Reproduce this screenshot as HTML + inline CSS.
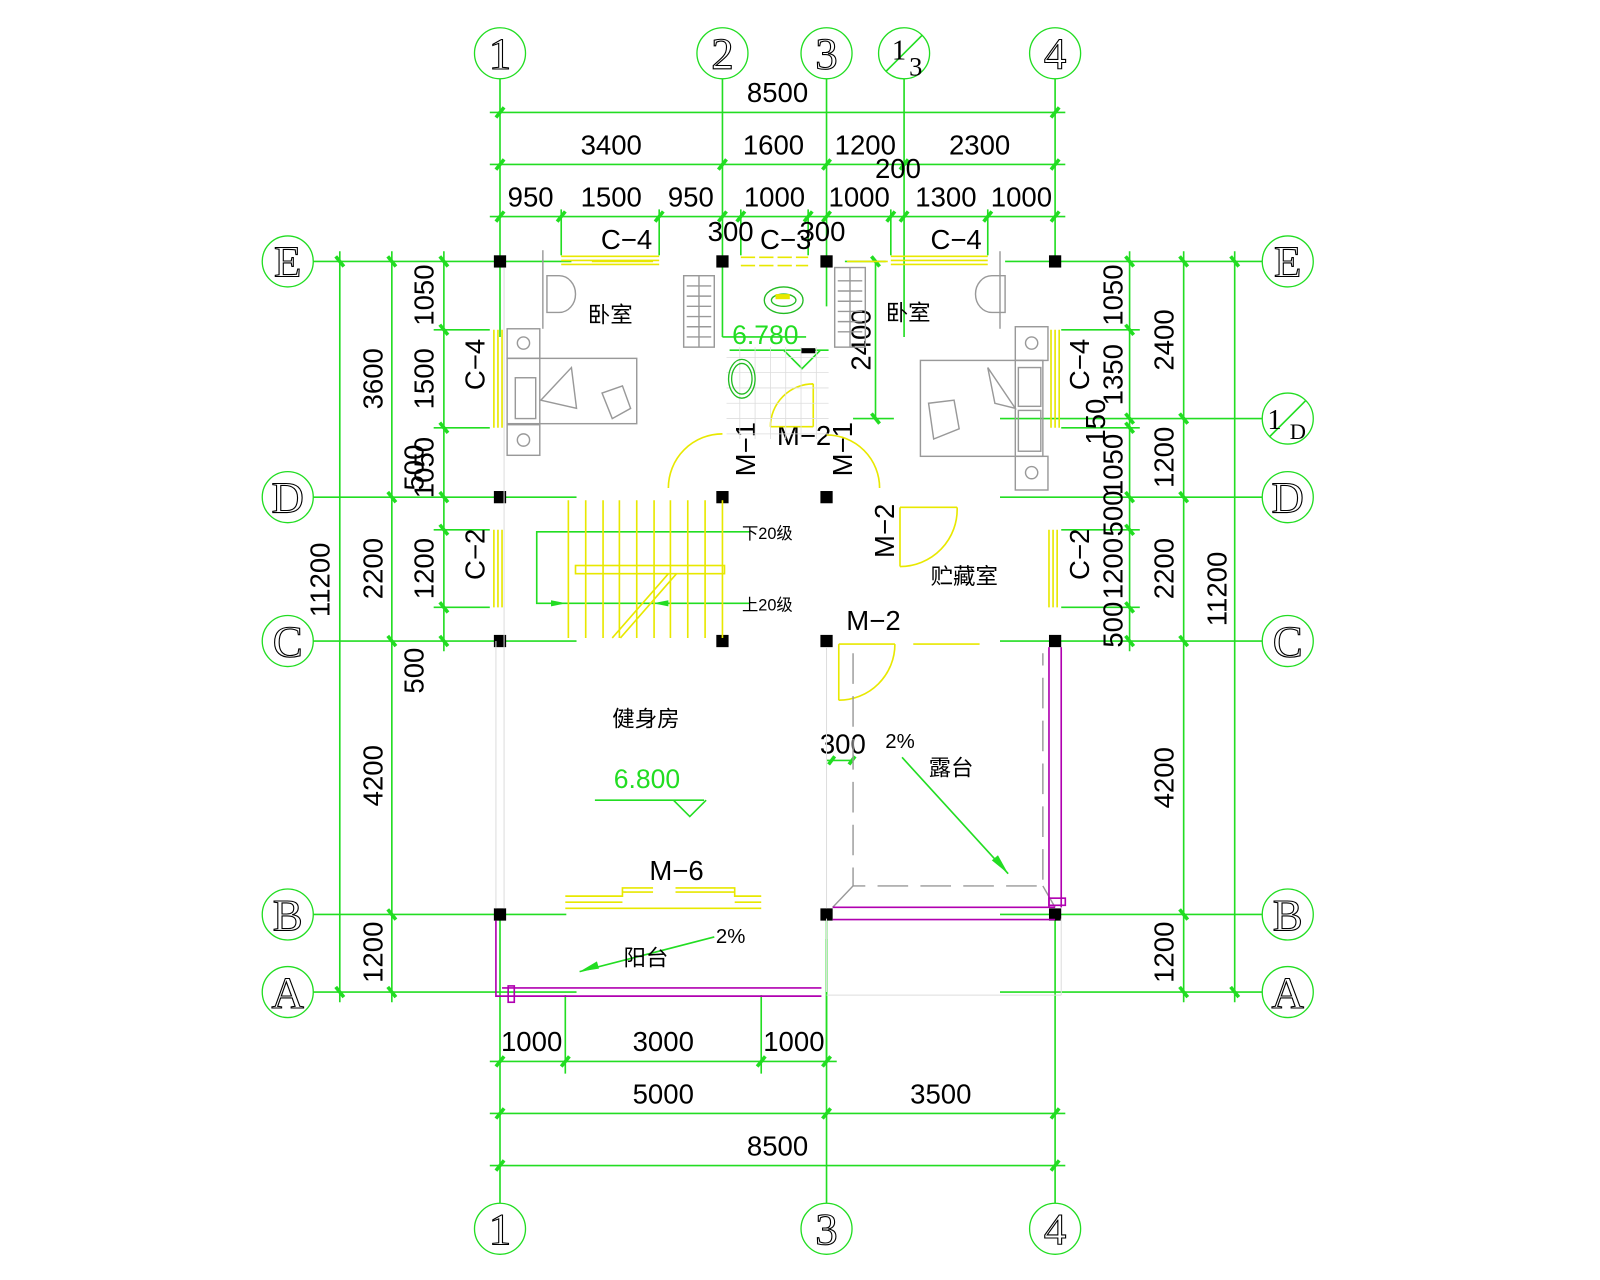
<!DOCTYPE html>
<html><head><meta charset="utf-8"><style>
html,body{margin:0;padding:0;background:#fff;}
svg{display:block}
.g{stroke:#22dd22;stroke-width:1.6;fill:none}
.t{stroke:#22dd22;stroke-width:3.5}
.y{stroke:#e8e800;stroke-width:1.6;fill:none}
.gr{stroke:#999;stroke-width:1.4;fill:none}
.p{stroke:#b000b0;stroke-width:1.6;fill:none}
text{font-family:"Liberation Sans","Noto Sans CJK SC",sans-serif;fill:#000}
.n{font-size:27px;text-anchor:middle;fill:#111}
text.b,.b text{font-family:"Liberation Serif",serif;font-size:44px;text-anchor:middle;fill:#fff;stroke:#000;stroke-width:1.1}
.c{font-size:22px;text-anchor:middle;font-family:"Liberation Sans","Noto Sans CJK SC",sans-serif}
</style></head><body>
<svg width="1600" height="1280" viewBox="0 0 1568 1254" xmlns="http://www.w3.org/2000/svg">
<rect x="0" y="0" width="1568" height="1254" fill="#fff"/>

<g class="g">
<line x1="490" y1="77" x2="490" y2="330"/><line x1="490" y1="896" x2="490" y2="1179"/>
<line x1="708" y1="77" x2="708" y2="330"/><line x1="708" y1="330" x2="790" y2="330"/>
<line x1="810" y1="77" x2="810" y2="300"/><line x1="810" y1="896" x2="810" y2="1179"/>
<line x1="886" y1="77" x2="886" y2="330"/>
<line x1="1034" y1="77" x2="1034" y2="256"/><line x1="1034" y1="896" x2="1034" y2="1179"/>
<line x1="307" y1="256" x2="560" y2="256"/><line x1="985" y1="256" x2="1237" y2="256"/>
<line x1="307" y1="487" x2="565" y2="487"/><line x1="980" y1="487" x2="1237" y2="487"/>
<line x1="307" y1="628" x2="565" y2="628"/><line x1="980" y1="628" x2="1237" y2="628"/>
<line x1="307" y1="896" x2="555" y2="896"/><line x1="980" y1="896" x2="1237" y2="896"/>
<line x1="307" y1="972" x2="565" y2="972"/><line x1="980" y1="972" x2="1237" y2="972"/>
<line x1="980" y1="410" x2="1237" y2="410"/>

<line x1="480" y1="110" x2="1044" y2="110"/>
<line x1="480" y1="161" x2="1044" y2="161"/>
<line x1="480" y1="212" x2="1044" y2="212"/>
<line x1="550" y1="205" x2="550" y2="250"/><line x1="646" y1="205" x2="646" y2="250"/>
<line x1="726" y1="205" x2="726" y2="250"/><line x1="792" y1="205" x2="792" y2="250"/>
<line x1="873" y1="205" x2="873" y2="250"/><line x1="968" y1="205" x2="968" y2="250"/>
<line x1="333" y1="246" x2="333" y2="982"/>
<line x1="384" y1="246" x2="384" y2="982"/>
<line x1="435" y1="246" x2="435" y2="638"/>
<line x1="425" y1="323" x2="480" y2="323"/><line x1="425" y1="419" x2="480" y2="419"/>
<line x1="425" y1="519" x2="480" y2="519"/><line x1="425" y1="595" x2="480" y2="595"/>
<line x1="1107" y1="246" x2="1107" y2="638"/>
<line x1="1160" y1="246" x2="1160" y2="982"/>
<line x1="1210" y1="246" x2="1210" y2="982"/>
<line x1="1040" y1="323" x2="1117" y2="323"/><line x1="1040" y1="419" x2="1117" y2="419"/>
<line x1="1040" y1="519" x2="1117" y2="519"/><line x1="1040" y1="595" x2="1117" y2="595"/>
<line x1="858" y1="256" x2="858" y2="410"/><line x1="836" y1="410" x2="876" y2="410"/>
<line x1="828" y1="256" x2="868" y2="256"/>
<line x1="480" y1="1040" x2="820" y2="1040"/>
<line x1="480" y1="1091" x2="1044" y2="1091"/>
<line x1="480" y1="1142" x2="1044" y2="1142"/>
<line x1="554" y1="975" x2="554" y2="1052"/><line x1="746" y1="975" x2="746" y2="1052"/>
<line x1="810" y1="920" x2="810" y2="1040"/>
<polyline points="735,521 526,521 526,591 735,591"/>
<line x1="715" y1="343" x2="812" y2="343"/>
<polyline points="768,343 786,361 804,343"/>
<line x1="583" y1="784" x2="690" y2="784"/>
<polyline points="660,784 676,800 692,784"/>
<line x1="884" y1="742" x2="988" y2="856"/>
<line x1="700" y1="918" x2="568" y2="952"/>
<line x1="810" y1="745" x2="836" y2="745"/>
</g>
<g fill="#22dd22">
<polygon points="988,856 978,838 972,843"/>
<polygon points="568,952 585,942 587,949"/>
<polygon points="555,591 540,588 540,594"/><polygon points="640,591 655,588 655,594"/>
</g>

<g class="t">
<path d="M486 115L494 105M1030 115L1038 105"/>
<path d="M486 166L494 156M704 166L712 156M806 166L814 156M882 166L890 156M1030 166L1038 156"/>
<path d="M486 217L494 207M546 217L554 207M642 217L650 207M704 217L712 207M722 217L730 207M788 217L796 207M806 217L814 207M869 217L877 207M882 217L890 207M964 217L972 207M1030 217L1038 207"/>
<path d="M329 251L337 261M329 967L337 977"/>
<path d="M380 251L388 261M380 482L388 492M380 623L388 633M380 891L388 901M380 967L388 977"/>
<path d="M431 251L439 261M431 318L439 328M431 414L439 424M431 482L439 492M431 514L439 524M431 590L439 600M431 623L439 633"/>
<path d="M1103 251L1111 261M1103 318L1111 328M1103 405L1111 415M1103 414L1111 424M1103 482L1111 492M1103 514L1111 524M1103 590L1111 600M1103 623L1111 633"/>
<path d="M1156 251L1164 261M1156 405L1164 415M1156 482L1164 492M1156 623L1164 633M1156 891L1164 901M1156 967L1164 977"/>
<path d="M1206 251L1214 261M1206 967L1214 977"/>
<path d="M854 251L862 261M854 405L862 415"/>
<path d="M486 1045L494 1035M550 1045L558 1035M742 1045L750 1035M806 1045L814 1035"/>
<path d="M486 1096L494 1086M806 1096L814 1086M1030 1096L1038 1086"/>
<path d="M486 1147L494 1137M1030 1147L1038 1137"/>
<path d="M812 749L818 741M832 749L838 741"/>
</g>

<g stroke="#22dd22" stroke-width="1.3" fill="#fff">
<circle cx="490" cy="52" r="25"/><circle cx="708" cy="52" r="25"/><circle cx="810" cy="52" r="25"/><circle cx="886" cy="52" r="25"/><circle cx="1034" cy="52" r="25"/>
<circle cx="490" cy="1204" r="25"/><circle cx="810" cy="1204" r="25"/><circle cx="1034" cy="1204" r="25"/>
<circle cx="282" cy="256" r="25"/><circle cx="282" cy="487" r="25"/><circle cx="282" cy="628" r="25"/><circle cx="282" cy="896" r="25"/><circle cx="282" cy="972" r="25"/>
<circle cx="1262" cy="256" r="25"/><circle cx="1262" cy="410" r="25"/><circle cx="1262" cy="487" r="25"/><circle cx="1262" cy="628" r="25"/><circle cx="1262" cy="896" r="25"/><circle cx="1262" cy="972" r="25"/>
</g>
<g class="g"><line x1="868" y1="70" x2="904" y2="34"/><line x1="1244" y1="428" x2="1280" y2="392"/></g>
<g class="b">
<text x="490" y="67">1</text><text x="708" y="67">2</text><text x="810" y="67">3</text><text x="1034" y="67">4</text>
<text x="490" y="1219">1</text><text x="810" y="1219">3</text><text x="1034" y="1219">4</text>
<text x="282" y="271">E</text><text x="282" y="502">D</text><text x="282" y="643">C</text><text x="282" y="911">B</text><text x="282" y="987">A</text>
<text x="1262" y="271">E</text><text x="1262" y="502">D</text><text x="1262" y="643">C</text><text x="1262" y="911">B</text><text x="1262" y="987">A</text>
</g>
<text x="874" y="58" style="font-family:'Liberation Serif',serif;font-size:28px">1</text>
<text x="891" y="74" style="font-family:'Liberation Serif',serif;font-size:26px">3</text>
<text x="1242" y="420" style="font-family:'Liberation Serif',serif;font-size:28px">1</text>
<text x="1264" y="430" style="font-family:'Liberation Serif',serif;font-size:22px">D</text>

<g class="n">
<text x="762" y="100">8500</text>
<text x="599" y="151">3400</text><text x="758" y="151">1600</text><text x="848" y="151">1200</text><text x="960" y="151">2300</text>
<text x="880" y="174">200</text>
<text x="520" y="202">950</text><text x="599" y="202">1500</text><text x="677" y="202">950</text><text x="759" y="202">1000</text><text x="842" y="202">1000</text><text x="927" y="202">1300</text><text x="1001" y="202">1000</text>
<text x="716" y="236">300</text><text x="806" y="236">300</text>
<text x="614" y="244">C−4</text><text x="770" y="244">C−3</text><text x="937" y="244">C−4</text>
<text x="521" y="1030">1000</text><text x="650" y="1030">3000</text><text x="778" y="1030">1000</text>
<text x="650" y="1081">5000</text><text x="922" y="1081">3500</text>
<text x="762" y="1132">8500</text>
<text x="826" y="738">300</text>
<text x="663" y="862">M−6</text>
<text x="788" y="436">M−2</text>
<text x="856" y="617">M−2</text>
</g>
<g class="n">
<text transform="translate(323,568) rotate(-90)">11200</text>
<text transform="translate(375,371) rotate(-90)">3600</text>
<text transform="translate(375,557) rotate(-90)">2200</text>
<text transform="translate(415,657) rotate(-90)">500</text>
<text transform="translate(375,760) rotate(-90)">4200</text>
<text transform="translate(375,933) rotate(-90)">1200</text>
<text transform="translate(425,289) rotate(-90)">1050</text>
<text transform="translate(425,371) rotate(-90)">1500</text>
<text transform="translate(415,458) rotate(-90)">500</text>
<text transform="translate(425,458) rotate(-90)">1050</text>
<text transform="translate(425,557) rotate(-90)">1200</text>
<text transform="translate(475,357) rotate(-90)">C−4</text>
<text transform="translate(475,543) rotate(-90)">C−2</text>
<text transform="translate(1100,289) rotate(-90)">1050</text>
<text transform="translate(1100,367) rotate(-90)">1350</text>
<text transform="translate(1083,413) rotate(-90)">150</text>
<text transform="translate(1100,455) rotate(-90)">1050</text>
<text transform="translate(1100,503) rotate(-90)">500</text>
<text transform="translate(1100,557) rotate(-90)">1200</text>
<text transform="translate(1100,612) rotate(-90)">500</text>
<text transform="translate(1067,357) rotate(-90)">C−4</text>
<text transform="translate(1067,543) rotate(-90)">C−2</text>
<text transform="translate(1150,333) rotate(-90)">2400</text>
<text transform="translate(1150,448) rotate(-90)">1200</text>
<text transform="translate(1150,557) rotate(-90)">2200</text>
<text transform="translate(1150,762) rotate(-90)">4200</text>
<text transform="translate(1150,933) rotate(-90)">1200</text>
<text transform="translate(1202,577) rotate(-90)">11200</text>
<text transform="translate(853,333) rotate(-90)">2400</text>
<text transform="translate(740,440) rotate(-90)">M−1</text>
<text transform="translate(835,440) rotate(-90)">M−1</text>
<text transform="translate(876,520) rotate(-90)">M−2</text>
</g>
<text x="750" y="337" style="font-size:26px;fill:#22dd22;text-anchor:middle;font-family:'Liberation Sans',sans-serif">6.780</text>
<text x="634" y="772" style="font-size:26px;fill:#22dd22;text-anchor:middle;font-family:'Liberation Sans',sans-serif">6.800</text>

<g class="c">
<text x="598" y="316">卧室</text><text x="890" y="314">卧室</text>
<text x="945" y="572">贮藏室</text><text x="633" y="712">健身房</text>
<text x="932" y="760">露台</text><text x="633" y="946">阳台</text>
<text x="882" y="733" style="font-size:20px">2%</text><text x="716" y="924" style="font-size:20px">2%</text>
<text x="752" y="528" style="font-size:16px">下20级</text><text x="752" y="598" style="font-size:16px">上20级</text>
</g>

<g fill="#000">
<rect x="484" y="250" width="12" height="12"/><rect x="702" y="250" width="12" height="12"/><rect x="804" y="250" width="12" height="12"/><rect x="1028" y="250" width="12" height="12"/>
<rect x="484" y="481" width="12" height="12"/><rect x="702" y="481" width="12" height="12"/><rect x="804" y="481" width="12" height="12"/>
<rect x="484" y="622" width="12" height="12"/><rect x="702" y="622" width="12" height="12"/><rect x="804" y="622" width="12" height="12"/><rect x="1028" y="622" width="12" height="12"/>
<rect x="484" y="890" width="12" height="12"/><rect x="804" y="890" width="12" height="12"/><rect x="1028" y="890" width="12" height="12"/>
<rect x="785" y="341" width="14" height="5"/>
</g>

<g class="y">
<path d="M550 251H646M550 255H646M550 259H646"/>
<path d="M726 252H792M726 260H792" stroke-dasharray="14 4"/>
<path d="M873 251H968M873 255H968M873 259H968"/>
<path d="M484 323V419M488 323V419M492 323V419"/>
<path d="M484 519V595M488 519V595M492 519V595"/>
<path d="M1030 323V419M1034 323V419M1038 323V419"/>
<path d="M1028 519V595M1032 519V595M1036 519V595"/>
<path d="M554 878H610V870H640M554 884H610M610 878V870M554 890H746M662 870H720V878H746M720 884H746M610 874H640M662 874H720"/>
<path d="M655 478A53 53 0 0 1 708 425M862 478A52 52 0 0 0 810 426M755 418A42 42 0 0 1 797 376M797 376V418M755 418H797"/>
<path d="M882 497V555M882 497H938M938 497A56 56 0 0 1 882 555"/>
<path d="M822 631V686M822 631H877M877 631A55 55 0 0 1 822 686M895 631H960"/>
<path d="M580 256H640M830 256H870"/>
</g>
<g class="y">
<path d="M557 490V625M574 490V625M591 490V625M607 490V625M624 490V625M641 490V625M657 490V625M674 490V625M691 490V625M708 490V625"/>
<rect x="564" y="554" width="146" height="8"/>
<path d="M600 625L655 562M608 625L663 562"/>
</g>
<g stroke="#ddd" stroke-width="0.8">
<path d="M712 350H812M712 365H812M712 380H812M712 395H812M712 410H812M712 425H812M725 340V430M740 340V430M755 340V430M770 340V430M785 340V430M800 340V430"/>
</g>
<g stroke="#22bb22" stroke-width="1.3" fill="none">
<ellipse cx="768" cy="294" rx="19" ry="13"/><ellipse cx="768" cy="294" rx="12" ry="6"/>
<ellipse cx="727" cy="371" rx="13" ry="19"/><ellipse cx="727" cy="371" rx="10" ry="15"/>
</g>
<rect x="760" y="288" width="14" height="5" fill="#e8e800"/>

<g class="gr">
<path d="M532 245V322"/>
<rect x="497" y="351" width="127" height="64"/><line x1="529" y1="351" x2="529" y2="415"/>
<rect x="497" y="322" width="32" height="29"/><rect x="497" y="416" width="32" height="30"/>
<circle cx="513" cy="336" r="6"/><circle cx="513" cy="431" r="6"/>
<path d="M536 270H548A16 18 0 0 1 548 306H536Z"/>
<path d="M530 392L560 360L565 400Z"/>
<rect x="505" y="370" width="20" height="40"/>
<path d="M590 385L610 378L618 400L600 410Z"/>
<path d="M980 246V322"/>
<rect x="902" y="353" width="120" height="94"/><line x1="995" y1="353" x2="995" y2="447"/>
<rect x="995" y="320" width="32" height="33"/><rect x="995" y="447" width="32" height="33"/>
<circle cx="1011" cy="336" r="6"/><circle cx="1011" cy="463" r="6"/>
<path d="M985 270H972A16 18 0 0 0 972 306H985Z"/>
<rect x="998" y="360" width="22" height="38"/><rect x="998" y="402" width="22" height="40"/>
<path d="M968 360L995 400L975 395Z"/>
<path d="M910 395L935 392L940 420L915 430Z"/>
<rect x="670" y="270" width="30" height="70"/><line x1="685" y1="270" x2="685" y2="340"/>
<path d="M673 280H697M673 290H697M673 300H697M673 310H697M673 320H697M673 330H697"/>
<rect x="818" y="262" width="30" height="78"/><line x1="833" y1="262" x2="833" y2="340"/>
<path d="M821 275H845M821 285H845M821 295H845M821 305H845M821 315H845M821 325H845"/>
<path d="M836 640V868H1022V640" stroke-dasharray="30 12"/>
<path d="M836 868L816 889M1022 868L1034 889"/>
</g>
<g stroke="#ddd" stroke-width="1" fill="none">
<path d="M486 628V890M494 262V890M810 634V890M1040 634V890M810 900V972M1040 900V975M810 975H1040"/>
</g>

<g class="p">
<path d="M816 889H1034M816 901H1034M1028 634V889M1040 634V889"/>
<rect x="1028" y="880" width="16" height="7"/>
<path d="M486 902V976H805M492 968H805"/>
<rect x="498" y="966" width="6" height="16"/>
</g>
</svg>
</body></html>
